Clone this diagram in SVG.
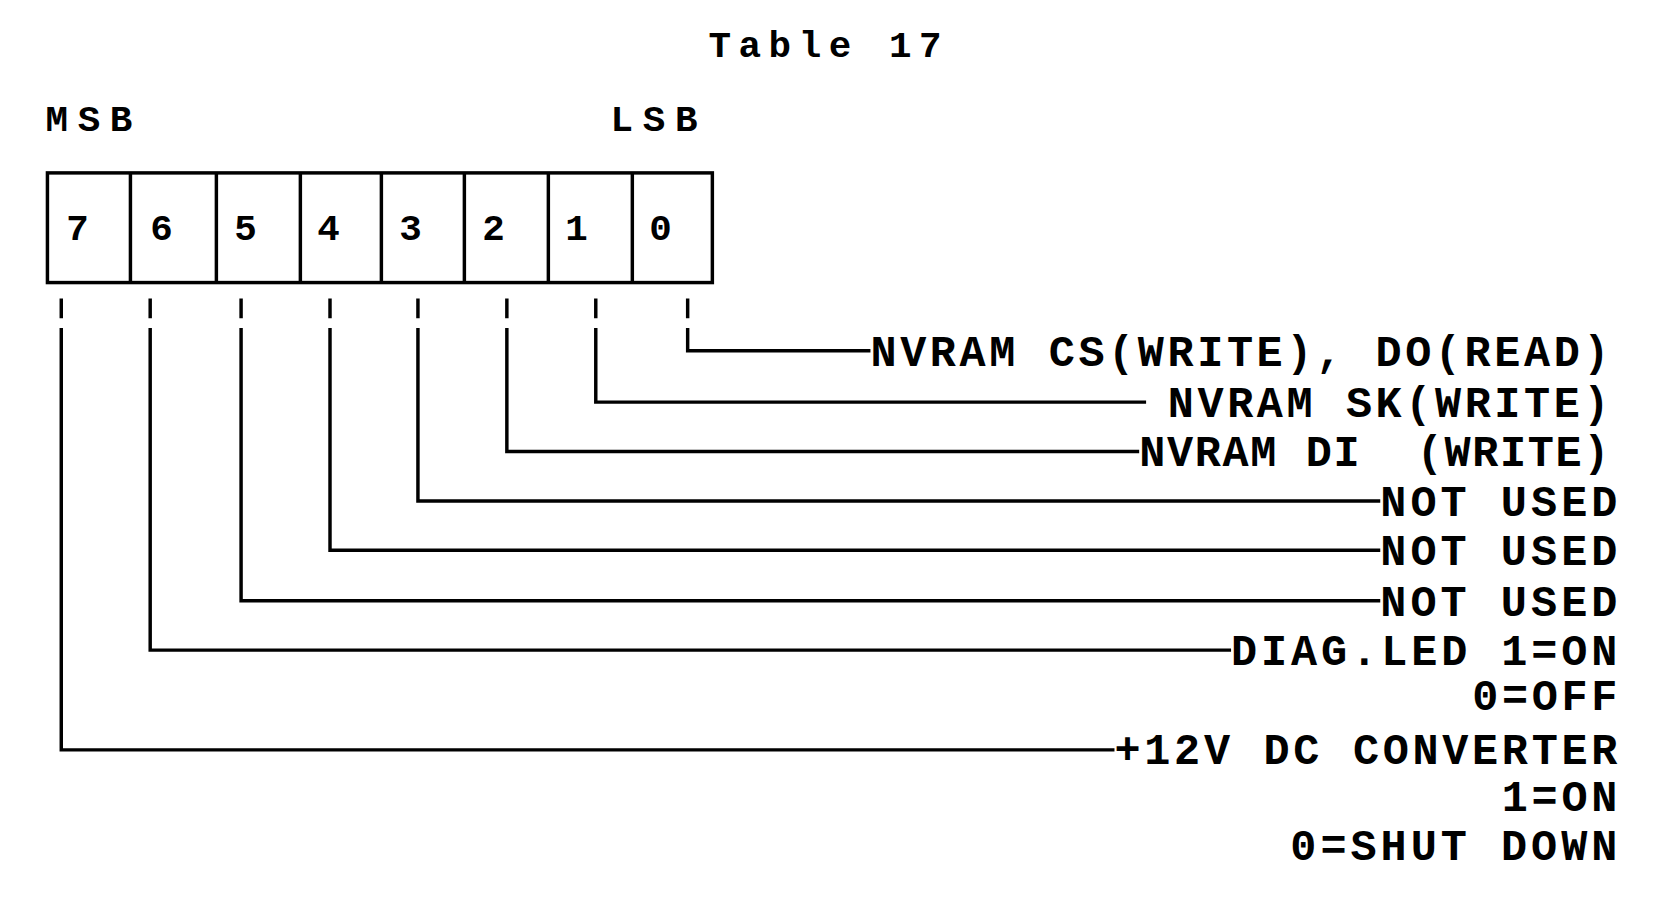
<svg xmlns="http://www.w3.org/2000/svg" width="1664" height="904" viewBox="0 0 1664 904">
<style>
text{font-family:"Liberation Mono","DejaVu Sans Mono",monospace;font-weight:bold;fill:#000}
.t{font-size:38px}.l{font-size:44px}
.c{stroke:#000;stroke-width:3.5;fill:none}
</style>
<rect width="1664" height="904" fill="#fff"/>
<g transform="translate(1,0) scale(0.988)">
<text class="t" x="716" y="58" textLength="236" lengthAdjust="spacing">Table 17</text>
<text class="t" x="45" y="133" textLength="88">MSB</text>
<text class="t" x="617" y="133" textLength="88">LSB</text>
<g id="register">
<rect class="c" x="47" y="175" width="673" height="111"/>
<path class="c" d="M131 175V286M218 175V286M303 175V286M385 175V286M469 175V286M554 175V286M639 175V286"/>
<text class="t" x="66" y="243">7</text><text class="t" x="151" y="243">6</text><text class="t" x="236" y="243">5</text><text class="t" x="320" y="243">4</text><text class="t" x="403" y="243">3</text><text class="t" x="487" y="243">2</text><text class="t" x="571" y="243">1</text><text class="t" x="656" y="243">0</text>
</g>
<g id="connectors" class="c">
<path d="M61 302V322M151 302V322M243 302V322M333 302V322M422 302V322M512 302V322M602 302V322M695 302V322"/>
<path d="M695 332V355H880"/>
<path d="M602 332V407H1159"/>
<path d="M512 332V457H1152"/>
<path d="M422 332V507H1396"/>
<path d="M333 332V557H1396"/>
<path d="M243 332V608H1396"/>
<path d="M151 332V658H1245"/>
<path d="M61 332V759H1127"/>
</g>
<g id="labels" class="l">
<text x="880" y="370" textLength="748" lengthAdjust="spacing">NVRAM CS(WRITE), DO(READ)</text>
<text x="1181" y="422" textLength="447" lengthAdjust="spacing">NVRAM SK(WRITE)</text>
<text x="1152" y="472" textLength="476" lengthAdjust="spacing" xml:space="preserve">NVRAM DI  (WRITE)</text>
<text x="1396" y="522" textLength="240" lengthAdjust="spacing">NOT USED</text>
<text x="1396" y="572" textLength="240" lengthAdjust="spacing">NOT USED</text>
<text x="1396" y="623" textLength="240" lengthAdjust="spacing">NOT USED</text>
<text x="1245" y="673" textLength="391" lengthAdjust="spacing">DIAG.LED 1=ON</text>
<text x="1489" y="719" textLength="147" lengthAdjust="spacing">0=OFF</text>
<text x="1127" y="773" textLength="509" lengthAdjust="spacing">+12V DC CONVERTER</text>
<text x="1519" y="821" textLength="117" lengthAdjust="spacing">1=ON</text>
<text x="1305" y="870" textLength="331" lengthAdjust="spacing">0=SHUT DOWN</text>
</g>
</g>
</svg>
